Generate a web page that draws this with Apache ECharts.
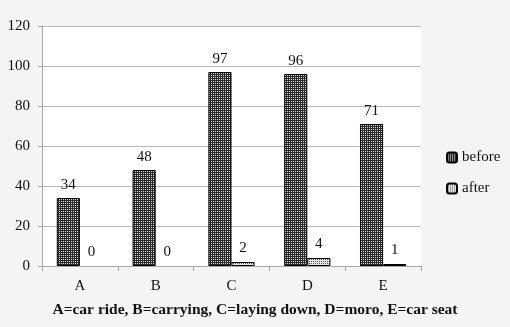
<!DOCTYPE html>
<html>
<head>
<meta charset="utf-8">
<script src="https://cdn.jsdelivr.net/npm/echarts@6/dist/echarts.min.js"></script>
<style>
  html, body { margin: 0; padding: 0; background: #f4f4f4; }
  #chart { width: 510px; height: 327px; }
</style>
</head>
<body>
<div id="chart"></div>
<script>
const categories = ['A', 'B', 'C', 'D', 'E'];
const beforeValues = [34, 48, 97, 96, 71];
const afterValues = [0, 0, 2, 4, 1];
const yTicks = [0, 20, 40, 60, 80, 100, 120];
const xTitle = 'A=car ride, B=carrying, C=laying down, D=moro, E=car seat';

// 填充图案
const makePattern = (bg, dot) => {
  const c = document.createElement('canvas');
  c.width = 4;
  c.height = 4;
  const ctx = c.getContext('2d');
  ctx.fillStyle = bg;
  ctx.fillRect(0, 0, 4, 4);
  ctx.fillStyle = dot;
  ctx.fillRect(1, 1, 1, 1);
  ctx.fillRect(3, 3, 1, 1);
  ctx.fillRect(3, 1, 1, 1);
  ctx.fillRect(1, 3, 1, 1);
  return c;
};

const darkPattern = makePattern('#2a2a2a', '#d8d8d8');
const lightPattern = makePattern('#e6e6e6', '#555555');

const serif = '"Liberation Serif", "DejaVu Serif", serif';

const myChart = echarts.init(document.getElementById('chart'));

// 值为0的柱子不画边框
const toItems = (values) => values.map(v => (v === 0 ? { value: v, itemStyle: { borderWidth: 0 } } : v));

const option = {
  backgroundColor: '#f4f4f4',
  animation: false,
  title: {
    text: xTitle,
    left: 'center',
    top: 297,
    textStyle: { fontFamily: serif, fontSize: 15.5, fontWeight: 'bold', color: '#111' }
  },
  legend: {
    orient: 'vertical',
    left: 441,
    top: 145,
    itemGap: 16,
    itemWidth: 10,
    itemHeight: 10,
    textStyle: { fontFamily: serif, fontSize: 15, color: '#111' },
    data: ['before', 'after']
  },
  grid: { left: 42, right: 89, top: 26, bottom: 61, backgroundColor: '#ffffff', show: true, borderWidth: 0 },
  xAxis: {
    type: 'category',
    data: categories,
    axisLine: { lineStyle: { color: '#a8a8a8', width: 1 } },
    axisTick: { show: true, length: 5, lineStyle: { color: '#a8a8a8' } },
    axisLabel: { fontFamily: serif, fontSize: 15, color: '#111', margin: 13 }
  },
  yAxis: {
    type: 'value',
    min: yTicks[0],
    max: yTicks[yTicks.length - 1],
    interval: 20,
    axisLine: { show: true, lineStyle: { color: '#a8a8a8' } },
    axisTick: { show: true, length: 4, lineStyle: { color: '#a8a8a8' } },
    axisLabel: { fontFamily: serif, fontSize: 15, color: '#111', margin: 12 },
    splitLine: { lineStyle: { color: '#b8b8b8' } }
  },
  series: [
    {
      name: 'before',
      type: 'bar',
      data: toItems(beforeValues),
      barGap: '0%',
      barCategoryGap: '39%',
      itemStyle: { color: { image: darkPattern, repeat: 'repeat' }, borderColor: '#000', borderWidth: 1 },
      label: { show: true, position: 'top', distance: 5, fontFamily: serif, fontSize: 15, color: '#111' }
    },
    {
      name: 'after',
      type: 'bar',
      data: toItems(afterValues),
      itemStyle: { color: { image: lightPattern, repeat: 'repeat' }, borderColor: '#000', borderWidth: 1 },
      label: { show: true, position: 'top', distance: 6, fontFamily: serif, fontSize: 15, color: '#111' }
    }
  ]
};

myChart.setOption(option);
</script>
</body>
</html>
